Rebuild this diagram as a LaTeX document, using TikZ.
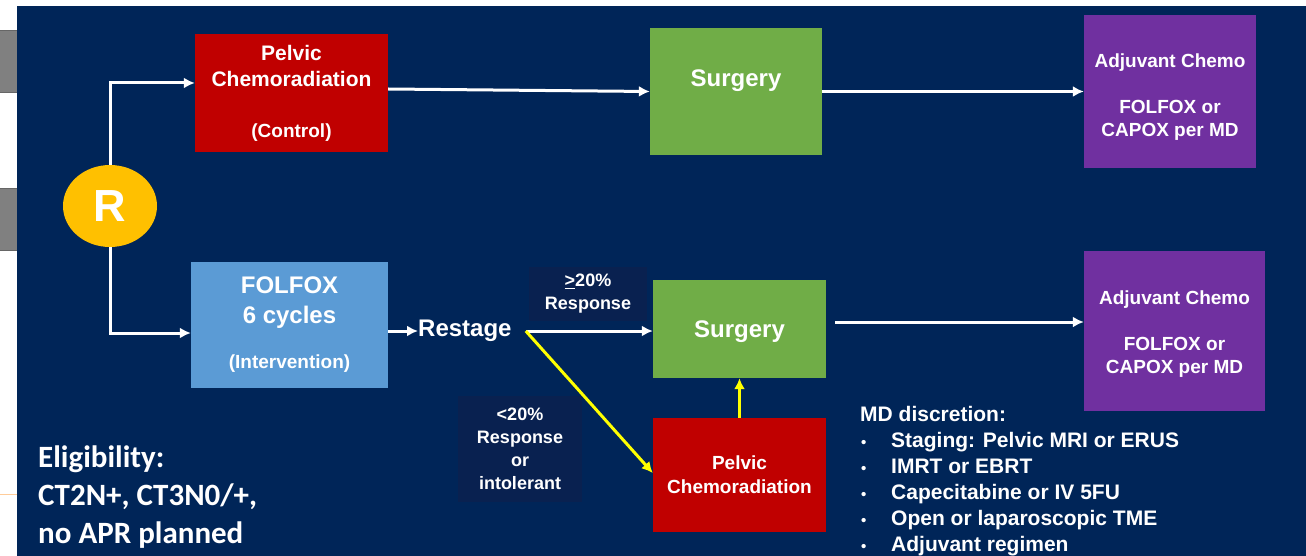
\documentclass[tikz,border=0pt]{standalone}
\usepackage{fontspec}
\setmainfont{Liberation Sans}
\newfontfamily\calibri{Carlito}
\usepackage{xcolor}
\usetikzlibrary{shapes.geometric, arrows.meta}

\definecolor{slidenavy}{RGB}{0,37,88}
\definecolor{labelnavy}{RGB}{9,33,80}
\definecolor{boxred}{RGB}{192,0,0}
\definecolor{boxgreen}{RGB}{112,173,71}
\definecolor{boxpurple}{RGB}{112,48,160}
\definecolor{boxblue}{RGB}{91,155,213}
\definecolor{rgold}{RGB}{255,192,0}
\definecolor{ylw}{RGB}{255,255,0}
\definecolor{fraggrey}{RGB}{128,128,128}

\newcommand{\fs}[2]{\fontsize{#1}{#2}\selectfont}
\newcommand{\mdbullet}{\makebox[31pt][l]{\hspace{1pt}{\fs{15}{15}\textbullet}}}

\begin{document}
\begin{tikzpicture}[x=1pt, y=-1pt, >={Latex[length=11pt,width=11pt]},
    box/.style={rectangle, inner sep=0pt, align=center, text=white, font={\bfseries\fs{19}{23}}},
    lbl/.style={rectangle, inner sep=0pt, align=center, fill=labelnavy, text=white, font={\bfseries\fs{18}{23}}},
    wline/.style={->, white, line width=3pt},
    yline/.style={->, ylw, line width=3pt}]

        % Slide
        \useasboundingbox (0,0) rectangle (1306,556);
        \fill[white] (0,0) rectangle (1306,556);
        \fill[fraggrey, draw={black!60}] (-2,30) rectangle (17,92);
        \fill[fraggrey, draw={black!60}] (-2,188) rectangle (17,250);
        \draw[orange!40, line width=1pt] (0,494) -- (17,494);
        \fill[slidenavy] (17,6) rectangle (1306,556);

        % Randomisation
        \node[ellipse, fill=rgold, minimum width=94pt, minimum height=82pt, inner sep=0pt, text=white, font={\bfseries\fs{45}{50}}] (rnode) at (110,206) {R};

        % Control arm
        \node[box, fill=boxred, minimum width=193pt, minimum height=118pt, font={\bfseries\fs{21}{26}}] (pelv1) at (291.5,93)
            {Pelvic\\Chemoradiation\\[25pt]{\fs{19}{23}(Control)}};
        \node[box, fill=boxgreen, minimum width=172pt, minimum height=127pt, font={\bfseries\fs{24}{29}}, text height=17pt, text depth=27pt] (surg1) at (736,91.5) {Surgery};
        \node[box, fill=boxpurple, minimum width=172pt, minimum height=153pt] (adj1) at (1170,91.5)
            {\rule{0pt}{24pt}Adjuvant Chemo\\[23pt]FOLFOX or\\CAPOX per MD};

        % Intervention arm
        \node[box, fill=boxblue, minimum width=197pt, minimum height=126pt, font={\bfseries\fs{24}{30}}] (folfox) at (289.5,325)
            {FOLFOX\\6 cycles\\[15pt]{\fs{19}{23}(Intervention)}};
        \node[anchor=west, inner sep=0pt, text=white, font={\bfseries\fs{24}{29}}] (restage) at (418,331) {Restage};
        \coordinate (fork) at ([xshift=14pt]restage.east);
        \node[box, fill=boxgreen, minimum width=173pt, minimum height=98pt, font={\bfseries\fs{24}{29}}, text height=17pt, text depth=0pt] (surg2) at (739.5,329) {Surgery};
        \node[box, fill=boxred, minimum width=173pt, minimum height=114pt, font={\bfseries\fs{19}{24}}] (pelv2) at (739.5,475)
            {Pelvic\\Chemoradiation};
        \node[box, fill=boxpurple, minimum width=181pt, minimum height=160pt] (adj2) at (1174.5,331)
            {\rule{0pt}{20pt}Adjuvant Chemo\\[23pt]FOLFOX or\\CAPOX per MD};

        % Response labels
        \node[lbl, minimum width=118pt, minimum height=54pt] (ge20) at (588,294) {\underline{>}20\%\\Response};
        \node[lbl, minimum width=124pt, minimum height=106pt] (lt20) at (520,449) {<20\%\\Response\\or\\intolerant};

        % Notes
        \node[anchor=north west, inner sep=0pt, align=left, text=white, font={\bfseries\fs{21}{26}}] (mdlist) at (860,406)
            {MD discretion:\\
             \mdbullet Staging: Pelvic MRI or ERUS\\
             \mdbullet IMRT or EBRT\\
             \mdbullet Capecitabine or IV 5FU\\
             \mdbullet Open or laparoscopic TME\\
             \mdbullet Adjuvant regimen};
        \node[anchor=north west, inner sep=0pt, align=left, text=white, font={\calibri\bfseries\fs{31}{38}}] (elig) at (38,446)
            {Eligibility:\\CT2N+, CT3N0/+,\\no APR planned};

        % Arrows
        \draw[wline] (rnode.north) |- ([yshift=10pt]pelv1.west);
        \draw[wline] (rnode.south) |- ([yshift=-8pt]folfox.west);
        \draw[wline] ([yshift=4pt]pelv1.east) -- (surg1.west);
        \draw[wline] (surg1.east) -- (adj1.west);
        \draw[wline] (folfox.east |- restage.west) -- (restage.west);
        \draw[wline] (fork) -- (fork -| surg2.west);
        \draw[yline] (fork) -- ([yshift=2pt]pelv2.west);
        \draw[yline] (pelv2.north) -- (surg2.south);
        \draw[wline] ([shift={(9pt,7pt)}]surg2.east) -- ([yshift=9pt]adj2.west);

    \end{tikzpicture}
\end{document}
